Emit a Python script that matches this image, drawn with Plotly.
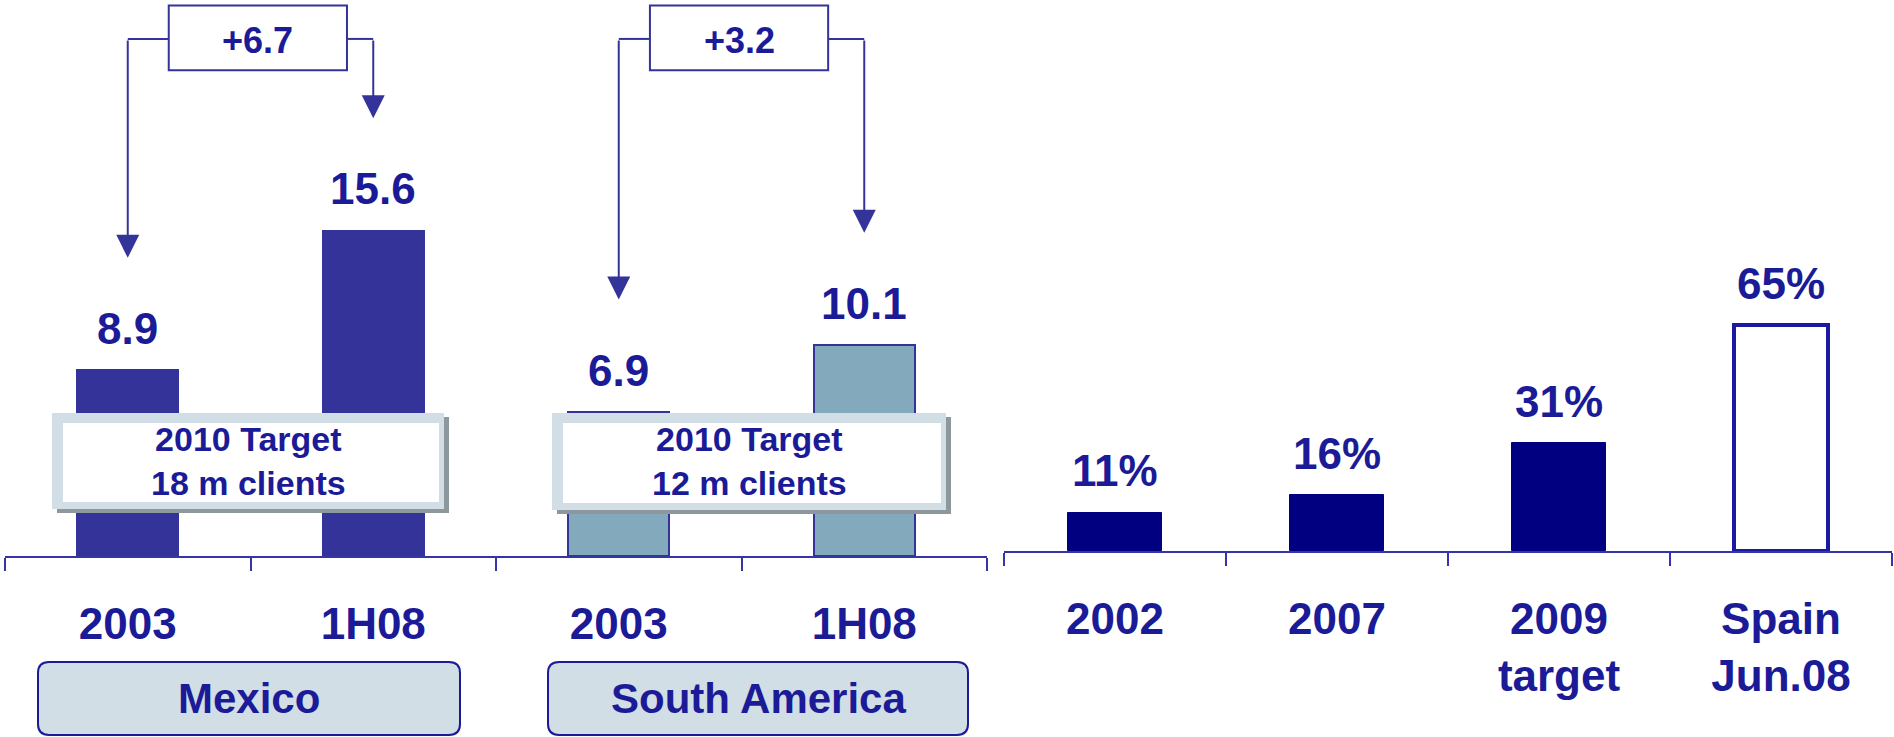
import plotly.graph_objects as go

# ---- data -------------------------------------------------------------
regions = ["Mexico", "South America"]
periods = ["2003", "1H08"]
mexico_clients = [8.9, 15.6]          # million clients
south_america_clients = [6.9, 10.1]   # million clients
target_title = "2010 Target"
targets_2010 = ["18 m clients", "12 m clients"]

share_labels = ["2002", "2007", "2009<br>target", "Spain<br>Jun.08"]
share_values = [11, 16, 31, 65]       # %

# ---- styling ------------------------------------------------------------
W, H = 1894, 737
FONT = "Liberation Sans, Arial, sans-serif"
TXT = "#1B1B98"
AXIS = "#3535A8"
MEX = "#343399"
SAM = "#82A9BC"
NAVY = "#000080"
FRAME = "#D1DEE5"
SHADOW = "#8E979C"


def px(x, y):
    """pixel position -> paper coordinates"""
    return x / W, 1 - y / H


fig = go.Figure()

# ---- left panel: clients by region ----------------------------------------
keys = [f"{r}|{p}" for r in regions for p in periods]
clients = [mexico_clients, south_america_clients]
fills = [MEX, SAM]
for gi, (reg, vals) in enumerate(zip(regions, clients)):
    fig.add_trace(go.Bar(
        x=keys[2 * gi:2 * gi + 2], y=vals, width=0.41,
        marker=dict(color=fills[gi], line=dict(color=MEX, width=2)),
        xaxis="x", yaxis="y", showlegend=False, hoverinfo="skip"))

# ---- right panel: share ----------------------------------------------------
fig.add_trace(go.Bar(
    x=share_labels, y=share_values, width=0.42,
    marker=dict(color=[NAVY, NAVY, NAVY, "white"],
                line=dict(color=[NAVY, NAVY, NAVY, "#1A1AA0"],
                          width=[1, 1, 1, 4])),
    xaxis="x2", yaxis="y2", showlegend=False, hoverinfo="skip"))

annotations = []
shapes = []

# value labels above bars
for i, v in enumerate(mexico_clients + south_america_clients):
    annotations.append(dict(x=i, y=v, xref="x", yref="y", text=f"{v:.1f}",
                            showarrow=False, yshift=42, yanchor="middle",
                            font=dict(family=FONT, size=44, color=TXT, weight="bold")))
for i, v in enumerate(share_values):
    annotations.append(dict(x=i, y=v, xref="x2", yref="y2", text=f"{v}%",
                            showarrow=False, yshift=42, yanchor="middle",
                            font=dict(family=FONT, size=44, color=TXT, weight="bold")))

# growth brackets: box with the change, arrows down to each bar
BRACKET_Y = 24.8
for gi, vals in enumerate(clients):
    i0, i1 = 2 * gi, 2 * gi + 1
    mid = (i0 + i1) / 2 + (0.03 if gi == 0 else -0.01)
    half = 0.363
    shapes.append(dict(type="rect", xref="x", yref="y", x0=mid - half, x1=mid + half,
                       y0=23.3, y1=26.4, fillcolor="white",
                       line=dict(color=MEX, width=2), layer="above"))
    shapes.append(dict(type="line", xref="x", yref="y", x0=i0, x1=mid - half,
                       y0=BRACKET_Y, y1=BRACKET_Y, line=dict(color=MEX, width=2)))
    shapes.append(dict(type="line", xref="x", yref="y", x0=mid + half, x1=i1,
                       y0=BRACKET_Y, y1=BRACKET_Y, line=dict(color=MEX, width=2)))
    for idx, v in ((i0, vals[0]), (i1, vals[1])):
        annotations.append(dict(x=idx, y=v + 5.4, xref="x", yref="y",
                                ax=idx, ay=BRACKET_Y, axref="x", ayref="y",
                                text="", showarrow=True, arrowhead=2, arrowsize=2.3,
                                arrowwidth=2, arrowcolor=MEX))
    delta = vals[1] - vals[0]
    annotations.append(dict(x=mid, y=BRACKET_Y, xref="x", yref="y", text=f"+{delta:.1f}",
                            showarrow=False, yshift=-2,
                            font=dict(family=FONT, size=36, color=TXT, weight="bold")))

# 2010 target boxes (framed, with drop shadow)
target_boxes = [(52, 413, 444, 509), (552, 413, 946, 510)]
for (x0, y0, x1, y1), tgt in zip(target_boxes, targets_2010):
    for (a, b, c, d, col) in ((x0 + 5, y0 + 4, x1 + 5, y1 + 4, SHADOW),
                              (x0, y0, x1, y1, FRAME),
                              (x0 + 11, y0 + 10, x1 - 5, y1 - 7, "white")):
        pa, pb = px(a, b)
        pc, pd = px(c, d)
        shapes.append(dict(type="rect", xref="paper", yref="paper", x0=pa, y0=pd,
                           x1=pc, y1=pb, fillcolor=col, line=dict(width=0), layer="above"))
    ax_, ay_ = px((x0 + x1) / 2, 461)
    annotations.append(dict(x=ax_, y=ay_, xref="paper", yref="paper",
                            text=f"{target_title}<br>{tgt}",
                            showarrow=False, xanchor="center", yanchor="middle",
                            font=dict(family=FONT, size=34, color=TXT, weight="bold")))

# region label boxes with rounded corners
region_boxes = [(38, 662, 460, 735), (548, 662, 968, 735)]
R = 11
for (x0, y0, x1, y1), reg in zip(region_boxes, regions):
    def P(x, y):
        a, b = px(x, y)
        return f"{a:.6f},{b:.6f}"
    path = (f"M {P(x0 + R, y0)} L {P(x1 - R, y0)} Q {P(x1, y0)} {P(x1, y0 + R)} "
            f"L {P(x1, y1 - R)} Q {P(x1, y1)} {P(x1 - R, y1)} "
            f"L {P(x0 + R, y1)} Q {P(x0, y1)} {P(x0, y1 - R)} "
            f"L {P(x0, y0 + R)} Q {P(x0, y0)} {P(x0 + R, y0)} Z")
    shapes.append(dict(type="path", xref="paper", yref="paper", path=path,
                       fillcolor=FRAME, line=dict(color=TXT, width=2), layer="above"))
    ax_, ay_ = px((x0 + x1) / 2, (y0 + y1) / 2)
    annotations.append(dict(x=ax_, y=ay_, xref="paper", yref="paper", text=reg,
                            showarrow=False, xanchor="center", yanchor="middle",
                            font=dict(family=FONT, size=42, color=TXT, weight="bold")))

tickfont = dict(family=FONT, size=44, color=TXT, weight="bold")
xcommon = dict(showline=True, linecolor=AXIS, linewidth=2, ticks="outside",
               tickson="boundaries", ticklen=13, tickwidth=2, tickcolor=AXIS,
               ticklabelstandoff=28,
               showgrid=False, zeroline=False, tickfont=tickfont, fixedrange=True)

fig.update_layout(
    width=W, height=H, margin=dict(l=0, r=0, t=0, b=0),
    paper_bgcolor="white", plot_bgcolor="white", bargap=0,
    xaxis=dict(domain=[5 / W, 987 / W], anchor="y", type="category",
               categoryorder="array", categoryarray=keys,
               tickmode="array", tickvals=keys, ticktext=periods * 2,
               range=[-0.5, 3.5], **xcommon),
    yaxis=dict(domain=[1 - 556 / H, 1], range=[0, 556 / 20.85], visible=False),
    xaxis2=dict(domain=[1004 / W, 1892 / W], anchor="y2", type="category",
                range=[-0.5, 3.5], **xcommon),
    yaxis2=dict(domain=[1 - 551 / H, 1], range=[0, 551 / 3.47], visible=False),
    annotations=annotations, shapes=shapes,
)

fig.write_html("out.html")
